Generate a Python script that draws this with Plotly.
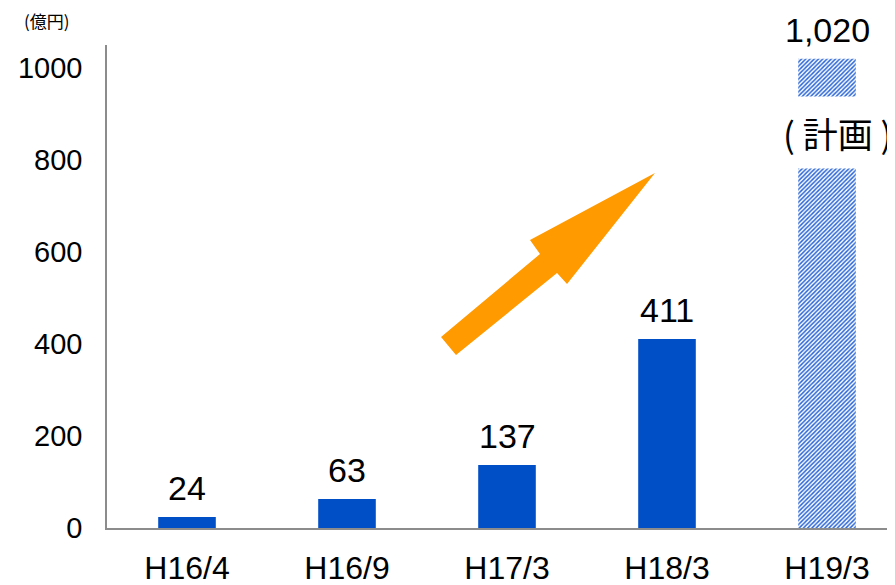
import plotly.graph_objects as go

categories = ["H16/4", "H16/9", "H17/3", "H18/3", "H19/3"]
values = [24, 63, 137, 411, 1020]
is_plan = [False, False, False, False, True]
y_ticks = [0, 200, 400, 600, 800, 1000]
unit_label = "(億円)"
plan_label = "( 計画 )"

BLUE = "#004FC6"
FONT = "Arial, Liberation Sans, sans-serif"
CJK = "Noto Sans CJK JP, sans-serif"

act_x = [c for c, p in zip(categories, is_plan) if not p]
act_y = [v for v, p in zip(values, is_plan) if not p]
plan_x = [c for c, p in zip(categories, is_plan) if p]
plan_y = [v for v, p in zip(values, is_plan) if p]

fig = go.Figure()
fig.add_trace(go.Bar(
    x=act_x, y=act_y, width=0.36,
    marker=dict(color=BLUE, line=dict(width=0)),
    hoverinfo="skip",
))
fig.add_trace(go.Bar(
    x=plan_x, y=plan_y, width=0.36,
    marker=dict(
        color="#ffffff", line=dict(width=0),
        pattern=dict(shape="/", fgcolor="#2a66d8", bgcolor="#ffffff",
                     size=3, solidity=0.5, fillmode="replace"),
    ),
    hoverinfo="skip",
))

# page body has an 8px offset; plot area in window pixels: L..L+W, T..T+H
OFF = 8
L, T, W, H = 107, 45, 788, 483

annotations = []
for c, v in zip(categories, values):
    annotations.append(dict(
        x=c, y=v, xref="x", yref="y", text=f"{v:,}", showarrow=False,
        yanchor="bottom", yshift=8, font=dict(family=FONT, size=34, color="#000"),
    ))
annotations.append(dict(
    x=plan_x[0], y=860, xref="x", yref="y", text=plan_label, showarrow=False,
    xanchor="center", yanchor="middle",
    xshift=10, bgcolor="#ffffff", borderpad=10,
    font=dict(family=CJK, size=35, color="#000"),
))
annotations.append(dict(
    x=(47 - L) / W, y=(T + H - 20) / H, xref="paper", yref="paper",
    xanchor="center", yanchor="middle",
    text=unit_label, showarrow=False,
    font=dict(family=CJK, size=17, color="#000"),
))

def P(px, py):
    return (px - L) / W, (T + H - py) / H
pts = [(441, 337), (456, 355), (557, 273), (567, 284), (655, 173), (530, 240), (540, 254)]
path = "M " + " L ".join(f"{P(a,b)[0]:.4f},{P(a,b)[1]:.4f}" for a, b in pts) + " Z"

FW, FH = 895, 585
fig.update_layout(
    width=FW, height=FH,
    margin=dict(l=L - OFF, r=FW - (L + W - OFF), t=T - OFF, b=FH - (T + H - OFF), autoexpand=False),
    plot_bgcolor="#ffffff", paper_bgcolor="#ffffff",
    showlegend=False, barmode="overlay",
    shapes=[dict(type="path", path=path, xref="paper", yref="paper",
                 fillcolor="#FF9A00", line=dict(width=0), layer="above")],
    annotations=annotations,
    font=dict(family=FONT, color="#000"),
)

fig.update_xaxes(
    range=[-0.5, 4.425], showline=True, linecolor="#8c8c8c", linewidth=2,
    showgrid=False, ticks="", tickfont=dict(family=FONT, size=32, color="#000"),
    ticklabelstandoff=11, fixedrange=True, automargin=False,
    categoryorder="array", categoryarray=categories,
)
fig.update_yaxes(
    range=[0, 1050], showline=True, linecolor="#8c8c8c", linewidth=1.5,
    showgrid=False, zeroline=False, ticks="", tickvals=y_ticks,
    tickfont=dict(family=FONT, size=29, color="#000"), ticklabelstandoff=17,
    fixedrange=True, automargin=False,
)

fig.write_html("out.html")
